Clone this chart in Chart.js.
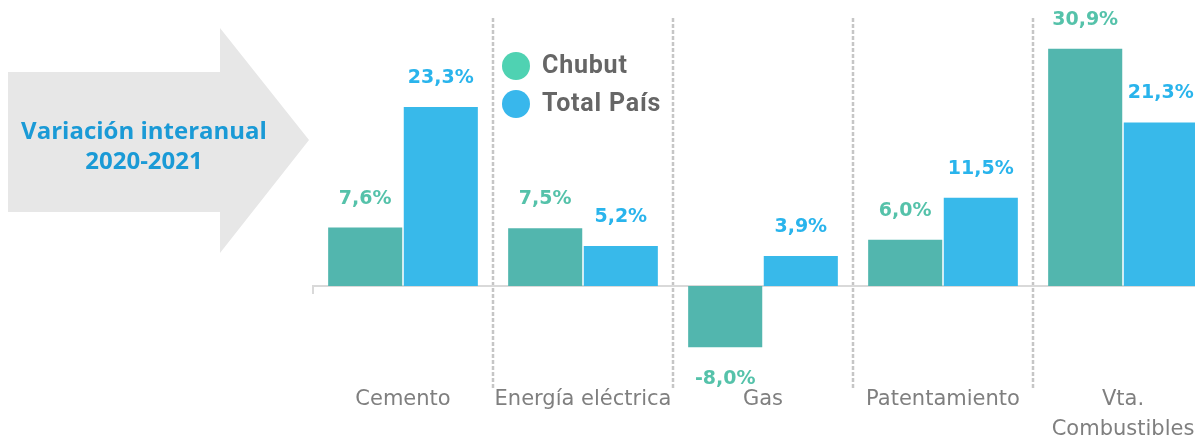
<!DOCTYPE html>
<html>
<head>
<meta charset="utf-8">
<script src="https://cdn.jsdelivr.net/npm/chart.js@4"></script>
<style>
  html, body { margin: 0; padding: 0; background: #fff; overflow: hidden; }
  #wrap { position: absolute; left: 0; top: 0; width: 1215px; height: 439px; }
</style>
</head>
<body>
<div id="wrap"><canvas id="varChart" width="1215" height="439"></canvas></div>
<script>
const categories = ['Cemento', 'Energía eléctrica', 'Gas', 'Patentamiento', ['Vta.', 'Combustibles']];
const chubutValues = [7.6, 7.5, -8.0, 6.0, 30.9];
const totalPaisValues = [23.3, 5.2, 3.9, 11.5, 21.3];
const seriesNames = ['Chubut', 'Total País'];

const barColors = ['#52b6ae', '#38b9ea'];
const labelColors = ['#55c2aa', '#29b4ec'];
const legendColors = ['#4fd2b2', '#38b7ec'];

const fmt = v => v.toFixed(1).replace('.', ',') + '%';

// flecha gris con el titulo
const arrowDecor = {
    id: 'arrowDecor',
    beforeDraw(chart) {
        const { ctx } = chart;
        ctx.save();
        ctx.fillStyle = '#e7e7e7';
        ctx.beginPath();
        ctx.moveTo(8, 72);
        ctx.lineTo(220, 72);
        ctx.lineTo(220, 28);
        ctx.lineTo(309, 140);
        ctx.lineTo(220, 253);
        ctx.lineTo(220, 212);
        ctx.lineTo(8, 212);
        ctx.closePath();
        ctx.fill();

        ctx.fillStyle = '#1a9ad6';
        ctx.font = 'bold 24px "Open Sans"';
        ctx.textAlign = 'center';
        ctx.textBaseline = 'middle';
        ctx.fillText('Variación interanual', 144, 132);
        ctx.fillText('2020-2021', 144, 162);
        ctx.restore();
    }
}

// separadores punteados y linea del cero
const separators = {
    id: 'separators',
    beforeDatasetsDraw(chart) {
        const { ctx, chartArea: { top, bottom, left, right }, scales: { x, y } } = chart;
        const step = x.getPixelForValue(1) - x.getPixelForValue(0);
        const zeroY = y.getPixelForValue(0);

        ctx.save();
        ctx.strokeStyle = '#c6c6c6';
        ctx.lineWidth = 2.5;
        ctx.setLineDash([4, 2]);
        for (let i = 1; i < categories.length; i++) {
            const sx = Math.round(x.getPixelForValue(i) - step / 2);
            ctx.beginPath();
            ctx.moveTo(sx, top);
            ctx.lineTo(sx, bottom);
            ctx.stroke();
        }
        ctx.setLineDash([]);
        ctx.lineWidth = 2;
        ctx.strokeStyle = '#d9d9d9';
        ctx.beginPath();
        ctx.moveTo(left, zeroY + 8);
        ctx.lineTo(left, zeroY);
        ctx.lineTo(right, zeroY);
        ctx.stroke();
        ctx.restore();
    }
}

// etiquetas de valores y leyenda
const valueLabels = {
    id: 'valueLabels',
    afterDatasetsDraw(chart) {
        const { ctx, data } = chart;
        ctx.save();
        ctx.font = 'bold 19px "DejaVu Sans"';
        ctx.textAlign = 'center';
        ctx.textBaseline = 'middle';

        data.datasets.forEach((ds, di) => {
            ctx.fillStyle = labelColors[di];
            chart.getDatasetMeta(di).data.forEach((bar, i) => {
                const v = ds.data[i];
                const ly = v >= 0 ? bar.y - 29 : bar.y + 32;
                ctx.fillText(fmt(v), bar.x, ly);
            });
        });

        // leyenda
        ctx.font = 'bold 25px Roboto';
        ctx.letterSpacing = '0.8px';
        ctx.textAlign = 'left';
        seriesNames.forEach((name, i) => {
            const cy = 66 + i * 38;
            ctx.fillStyle = legendColors[i];
            ctx.beginPath();
            ctx.arc(516, cy, 14, 0, Math.PI * 2);
            ctx.fill();
            ctx.fillStyle = '#666666';
            ctx.fillText(name, 542, cy + 1);
        });
        ctx.restore();
    }
}

const config = {
    type: 'bar',
    plugins: [arrowDecor, separators, valueLabels],
    data: {
        labels: categories,
        datasets: [
            { label: seriesNames[0], data: chubutValues, backgroundColor: barColors[0] },
            { label: seriesNames[1], data: totalPaisValues, backgroundColor: barColors[1] },
        ],
    },
    options: {
        responsive: false,
        animation: false,
        layout: { padding: { left: 313, right: 2, top: 18, bottom: 0 } },
        datasets: {
            bar: { categoryPercentage: 0.84, barPercentage: 0.98 }
        },
        plugins: {
            legend: { display: false },
            tooltip: { enabled: false },
        },
        scales: {
            y: {
                display: false,
                min: -13.3,
                max: 34.9,
            },
            x: {
                grid: { display: false, drawTicks: false },
                border: { display: false },
                ticks: {
                    color: '#7f7f7f',
                    font: { family: '"DejaVu Sans"', size: 21, lineHeight: 1.45 },
                    padding: -4,
                    maxRotation: 0,
                    autoSkip: false,
                },
                afterFit(scale) { scale.height = 51; },
            },
        },
    },
}

const varChart = new Chart(document.getElementById('varChart'), config);
</script>
</body>
</html>
